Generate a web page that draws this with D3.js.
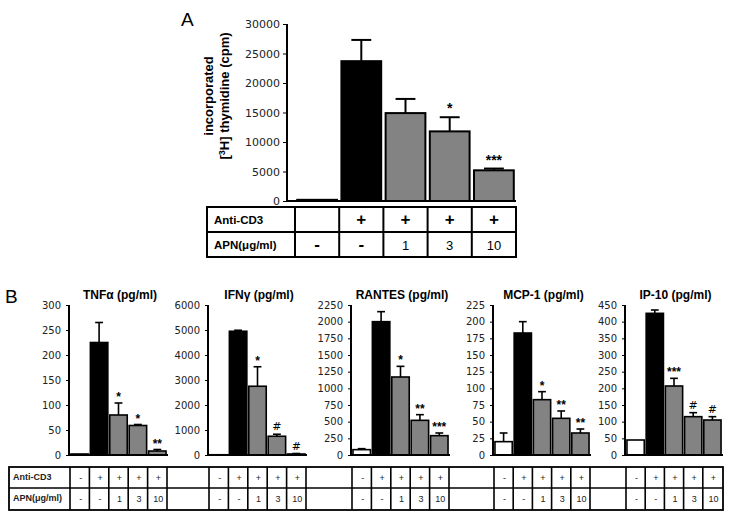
<!DOCTYPE html>
<html><head><meta charset="utf-8">
<script src="https://cdn.jsdelivr.net/npm/d3@7"></script>
<style>
html,body{margin:0;padding:0;background:#fff;}
svg{display:block;}
</style></head>
<body>
<svg id="chart" width="731" height="519"></svg>
<script>
// ---------- DATA ----------
const groups = ["control", "antiCD3", "apn1", "apn3", "apn10"];
const antiCD3RowA = ["", "+", "+", "+", "+"];
const antiCD3Row = ["-", "+", "+", "+", "+"];
const apnRow = ["-", "-", "1", "3", "10"];
const rowLabels = ["Anti-CD3", "APN(\u03bcg/ml)"];

// Panel A: incorporated [3H] thymidine (cpm)
const thymidineValues = [200, 23700, 14900, 11800, 5200];
const thymidineErrors = [0, 3600, 2400, 2400, 300];
const thymidineSig = ["", "", "", "*", "***"];
const thymidineTicks = [0, 5000, 10000, 15000, 20000, 25000, 30000];

// Panel B cytokines (pg/ml)
const cytokineNames = ["TNF\u03b1 (pg/ml)", "IFN\u03b3 (pg/ml)", "RANTES (pg/ml)", "MCP-1 (pg/ml)", "IP-10 (pg/ml)"];
const tnfValues = [2, 225, 80, 59, 8];
const tnfErrors = [0, 40, 24, 2, 3];
const tnfSig = ["", "", "*", "*", "**"];
const tnfTicks = [0, 50, 100, 150, 200, 250, 300];

const ifnValues = [10, 4950, 2750, 750, 40];
const ifnErrors = [0, 40, 780, 80, 20];
const ifnSig = ["", "", "*", "#", "#"];
const ifnTicks = [0, 1000, 2000, 3000, 4000, 5000, 6000];

const rantesValues = [80, 2000, 1170, 520, 290];
const rantesErrors = [15, 150, 160, 85, 40];
const rantesSig = ["", "", "*", "**", "***"];
const rantesTicks = [0, 250, 500, 750, 1000, 1250, 1500, 1750, 2000, 2250];

const mcpValues = [20, 183, 83, 55, 33];
const mcpErrors = [13, 17, 12, 11, 6];
const mcpSig = ["", "", "*", "**", "**"];
const mcpTicks = [0, 25, 50, 75, 100, 125, 150, 175, 200, 225];

const ipValues = [45, 425, 207, 115, 105];
const ipErrors = [0, 10, 23, 12, 10];
const ipSig = ["", "", "***", "#", "#"];
const ipTicks = [0, 50, 100, 150, 200, 250, 300, 350, 400, 450];

// ---------- DRAWING ----------
const svg = d3.select("#chart");
const fill = d3.scaleOrdinal().domain(groups).range(["#ffffff", "#000000", "#838383", "#838383", "#838383"]);
const tickFont = "'DejaVu Sans', sans-serif";
const boldFont = "'Liberation Sans', Arial, sans-serif";

function barChart(opt) {
  const g = svg.append("g");
  const x = d3.scaleBand().domain(groups).range([opt.x0 + opt.barStart, opt.x1])
    .paddingInner(0.1).paddingOuter(0.05);
  const y = d3.scaleLinear().domain([0, opt.ticks[opt.ticks.length - 1]]).range([opt.yZero, opt.yTop]);
  const data = groups.map((k, i) => ({k, v: opt.values[i], e: opt.errors[i], s: opt.sig[i]}));

  const capW = x.bandwidth() * opt.cap;
  data.filter(d => d.e > 0).forEach(d => {
    const cx = x(d.k) + x.bandwidth() / 2;
    g.append("line").attr("x1", cx).attr("x2", cx).attr("y1", y(d.v)).attr("y2", y(d.v + d.e))
      .attr("stroke", "#000").attr("stroke-width", opt.sw);
    g.append("line").attr("x1", cx - capW / 2).attr("x2", cx + capW / 2)
      .attr("y1", y(d.v + d.e)).attr("y2", y(d.v + d.e))
      .attr("stroke", "#000").attr("stroke-width", opt.sw);
  });
  g.selectAll("rect.bar").data(data).join("rect").attr("class", "bar")
    .attr("x", d => x(d.k)).attr("width", x.bandwidth())
    .attr("y", d => y(d.v)).attr("height", d => Math.max(0, y(0) - y(d.v)))
    .attr("fill", d => fill(d.k)).attr("stroke", "#000").attr("stroke-width", opt.sw);
  g.selectAll("text.sig").data(data.filter(d => d.s)).join("text").attr("class", "sig")
    .attr("x", d => x(d.k) + x.bandwidth() / 2)
    .attr("y", d => y(d.v + d.e) - (d.s === "#" ? opt.hashGap : opt.starGap))
    .attr("text-anchor", "middle").attr("font-family", d => d.s === "#" ? tickFont : boldFont)
    .attr("font-weight", d => d.s === "#" ? "normal" : "bold")
    .attr("font-size", d => d.s === "#" ? opt.sigSize - 1 : opt.sigSize).text(d => d.s);

  const yAxis = d3.axisLeft(y).tickValues(opt.ticks).tickSize(opt.tickLen).tickPadding(opt.tickPad)
    .tickFormat(d3.format("d"));
  const ag = g.append("g").attr("transform", `translate(${opt.x0},0)`).call(yAxis);
  ag.select(".domain").remove();
  ag.selectAll(".tick line").attr("stroke", "#000").attr("stroke-width", 1);
  ag.selectAll(".tick text").attr("font-family", tickFont).attr("font-size", opt.tickSize).attr("fill", "#222");
  g.append("line").attr("x1", opt.x0).attr("x2", opt.x0).attr("y1", opt.yTop).attr("y2", opt.yZero + 1)
    .attr("stroke", "#000").attr("stroke-width", opt.axisW);
  g.append("line").attr("x1", opt.x0).attr("x2", opt.x1 + opt.baseExt).attr("y1", opt.yZero).attr("y2", opt.yZero)
    .attr("stroke", "#000").attr("stroke-width", opt.axisW);
  return x;
}

// ----- Panel A -----
svg.append("text").attr("x", 181).attr("y", 26).attr("font-family", boldFont).attr("font-size", 19).text("A");
const xA = barChart({
  x0: 287, x1: 516, barStart: 8, yTop: 24, yZero: 201,
  values: thymidineValues, errors: thymidineErrors, sig: thymidineSig, ticks: thymidineTicks,
  cap: 0.5, sw: 2, sigSize: 14, starGap: 4, hashGap: 5, tickLen: 4, tickPad: 3, tickSize: 11, axisW: 2, baseExt: 0
});
const yTitle = svg.append("g").attr("font-family", boldFont).attr("font-weight", "bold").attr("font-size", 13);
yTitle.append("text").attr("transform", "translate(213,96) rotate(-90)").attr("text-anchor", "middle").text("incorporated");
const t2 = yTitle.append("text").attr("transform", "translate(229,96) rotate(-90)").attr("text-anchor", "middle");
t2.append("tspan").text("[");
t2.append("tspan").attr("font-size", 9).attr("dy", -4).text("3");
t2.append("tspan").attr("dy", 4).text("H] thymidine (cpm)");

(function () {
  const g = svg.append("g");
  const top = 207, mid = 232, bot = 257, left = 207;
  const step = xA.step();
  const starts = groups.map(k => xA(k) - xA.paddingInner() * step / 2);
  const edges = [left, ...starts, starts[4] + step];
  const right = edges[edges.length - 1];
  g.append("rect").attr("x", left).attr("y", top).attr("width", right - left).attr("height", bot - top)
    .attr("fill", "none").attr("stroke", "#000").attr("stroke-width", 2);
  g.append("line").attr("x1", left).attr("x2", right).attr("y1", mid).attr("y2", mid).attr("stroke", "#000").attr("stroke-width", 2);
  edges.slice(1, -1).forEach(e => g.append("line").attr("x1", e).attr("x2", e).attr("y1", top).attr("y2", bot)
    .attr("stroke", "#000").attr("stroke-width", 2));
  rowLabels.forEach((lab, r) => {
    g.append("text").attr("x", left + 7).attr("y", (r ? mid : top) + 17).attr("font-family", boldFont)
      .attr("font-weight", "bold").attr("font-size", 11.5).text(lab);
  });
  [antiCD3RowA, apnRow].forEach((row, r) => {
    row.forEach((s, i) => {
      if (!s) return;
      const cx = (edges[i + 1] + edges[i + 2]) / 2;
      const isSym = (s === "+" || s === "-");
      g.append("text").attr("x", cx).attr("y", (r ? mid : top) + 18)
        .attr("text-anchor", "middle").attr("font-family", boldFont)
        .attr("font-weight", isSym ? "bold" : "normal")
        .attr("font-size", isSym ? 17 : 13).text(s);
    });
  });
})();

// ----- Panel B -----
svg.append("text").attr("x", 5).attr("y", 303).attr("font-family", boldFont).attr("font-size", 19).text("B");
const panelsB = [
  {x0: 69, x1: 167, values: tnfValues, errors: tnfErrors, sig: tnfSig, ticks: tnfTicks},
  {x0: 208, x1: 306, values: ifnValues, errors: ifnErrors, sig: ifnSig, ticks: ifnTicks},
  {x0: 351, x1: 449, values: rantesValues, errors: rantesErrors, sig: rantesSig, ticks: rantesTicks},
  {x0: 493, x1: 590, values: mcpValues, errors: mcpErrors, sig: mcpSig, ticks: mcpTicks},
  {x0: 625, x1: 722, values: ipValues, errors: ipErrors, sig: ipSig, ticks: ipTicks}
];
const tTop = 467, tMid = 488, tBot = 510, tLeft = 9, tRight = 723;
const tb = svg.append("g");
const bEdges = [];
panelsB.forEach((p, i) => {
  const xs = barChart(Object.assign({
    yTop: 305, yZero: 455, barStart: 1, cap: 0.45, sw: 1.6, sigSize: 12, starGap: 2, hashGap: 4,
    tickLen: 3, tickPad: 5, tickSize: 10, axisW: 2, baseExt: 1
  }, p));
  svg.append("text").attr("x", (p.x0 + p.x1) / 2 + 2).attr("y", 299).attr("text-anchor", "middle")
    .attr("font-family", boldFont).attr("font-weight", "bold").attr("font-size", 12).text(cytokineNames[i]);
  const step = xs.step();
  const starts = groups.map(k => xs(k) - xs.paddingInner() * step / 2);
  bEdges.push([...starts, starts[4] + step]);
});
tb.append("rect").attr("x", tLeft).attr("y", tTop).attr("width", tRight - tLeft).attr("height", tBot - tTop)
  .attr("fill", "none").attr("stroke", "#000").attr("stroke-width", 1.8);
tb.append("line").attr("x1", tLeft).attr("x2", tRight).attr("y1", tMid).attr("y2", tMid).attr("stroke", "#000").attr("stroke-width", 1.6);
bEdges.forEach((edges, pi) => {
  edges.forEach((e, j) => {
    if (pi === bEdges.length - 1 && j === edges.length - 1) return;
    tb.append("line").attr("x1", e).attr("x2", e).attr("y1", tTop).attr("y2", tBot).attr("stroke", "#000").attr("stroke-width", 1.6);
  });
  [antiCD3Row, apnRow].forEach((row, r) => {
    row.forEach((s, i) => {
      tb.append("text").attr("x", (edges[i] + edges[i + 1]) / 2 + 1).attr("y", (r ? tMid : tTop) + 14)
        .attr("text-anchor", "middle").attr("font-family", boldFont).attr("font-size", 9).attr("fill", "#222").text(s);
    });
  });
});
rowLabels.forEach((lab, r) => {
  tb.append("text").attr("x", tLeft + 4).attr("y", (r ? tMid : tTop) + 13).attr("font-family", boldFont)
    .attr("font-weight", "bold").attr("font-size", 9).attr("fill", "#222").text(lab);
});
</script>
</body></html>
